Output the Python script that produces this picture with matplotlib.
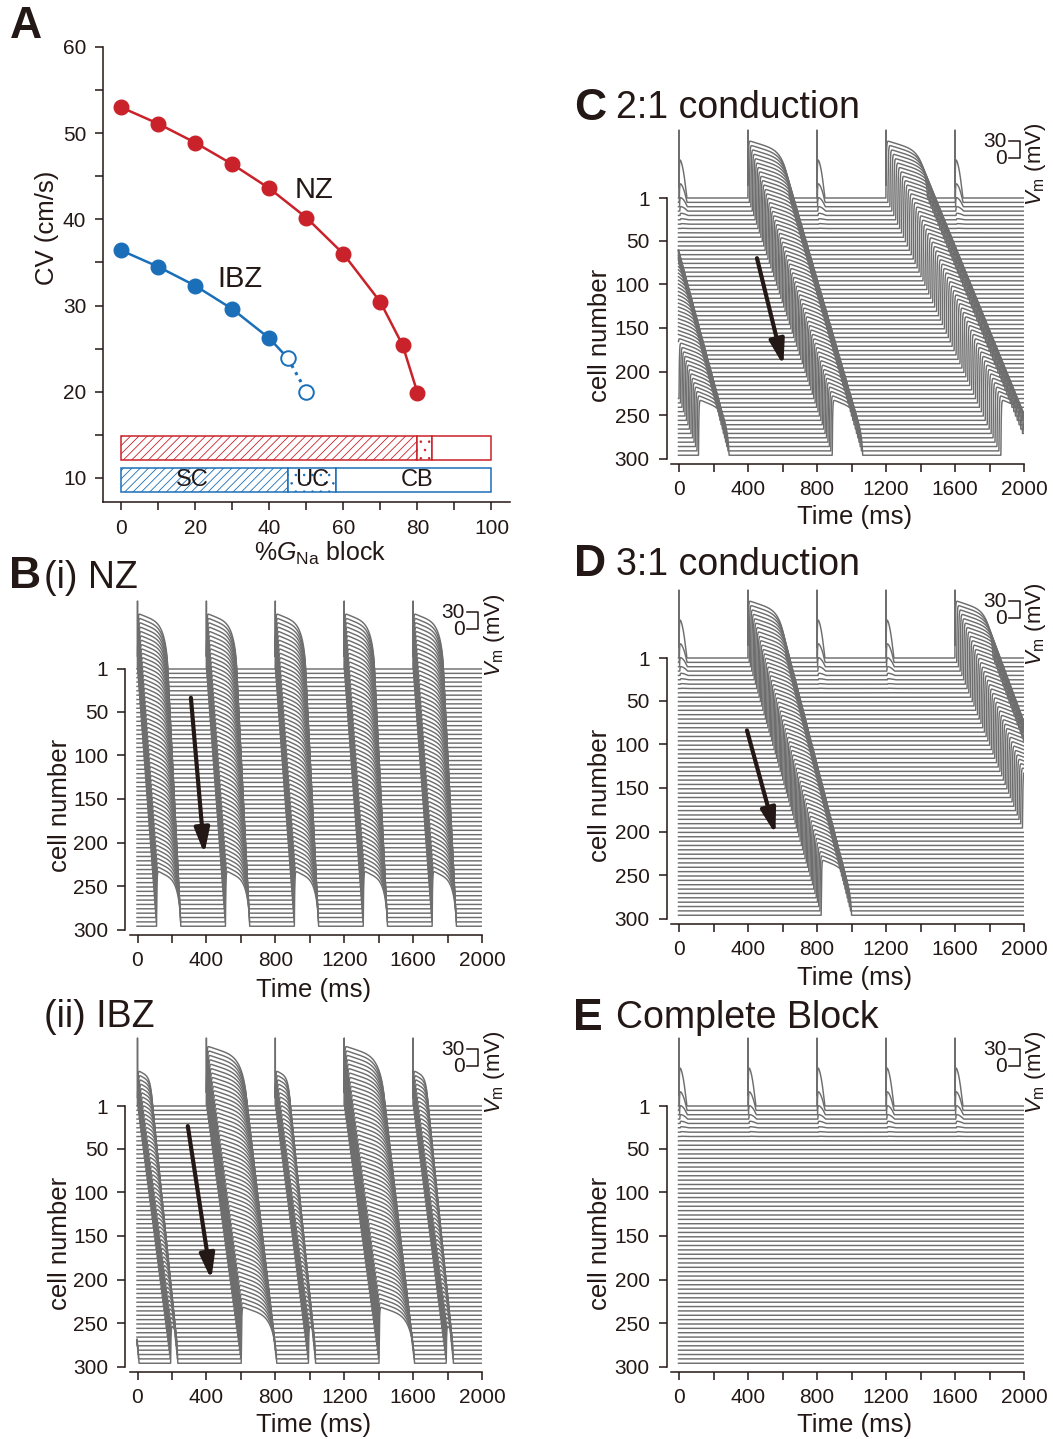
import numpy as np
import matplotlib
matplotlib.use("Agg")
import matplotlib.pyplot as plt
from matplotlib.ticker import MultipleLocator

plt.rcParams["font.family"] = ["Liberation Sans", "DejaVu Sans"]
plt.rcParams["mathtext.fontset"] = "custom"
plt.rcParams["mathtext.rm"] = "Liberation Sans"
plt.rcParams["mathtext.it"] = "Liberation Sans:italic"
plt.rcParams["hatch.linewidth"] = 0.6

W, H = 1053, 1439
INK = "#231815"
RED = "#c9222a"
BLUE = "#1b6fb9"
GREY = "#6e6e6e"

# ---- panel A data ----
block_nz = [0, 10, 20, 30, 40, 50, 60, 70, 76, 80]
cv_nz = [53.0, 51.1, 48.9, 46.4, 43.6, 40.2, 36.0, 30.4, 25.4, 19.9]
block_ibz = [0, 10, 20, 30, 40, 45, 50]
cv_ibz = [36.4, 34.5, 32.3, 29.6, 26.2, 23.9, 20.0]
n_solid_ibz = 5  # last two IBZ points are open circles

nz_bounds = [0, 80, 84, 100]
ibz_bounds = [0, 45, 58, 100]
region_names = ["SC", "UC", "CB"]
region_hatch = ["////", "..", ""]

# ---- trace panels: stimulus times and per-beat conduction ----
stims_5 = [0, 400, 800, 1200, 1600]
stims_6 = [-400, 0, 400, 800, 1200, 1600]

nz_conducted = [1, 1, 1, 1, 1]
nz_delay = [112, 112, 112, 112, 112]
nz_apd_top = [175, 175, 175, 175, 175]
nz_apd_bot = [140, 140, 140, 140, 140]
nz_amp_top = [64, 64, 64, 64, 64]
nz_amp_bot = [64, 64, 64, 64, 64]

ibz_conducted = [1, 1, 1, 1, 1, 1]
ibz_delay = [205, 195, 205, 195, 205, 195]
ibz_apd_top = [260, 85, 234, 85, 234, 85]
ibz_apd_bot = [205, 40, 205, 40, 205, 40]
ibz_amp_top = [69, 41, 69, 41, 69, 41]
ibz_amp_bot = [65, 45, 65, 45, 65, 45]

c_conducted = [1, 0, 1, 0, 1, 0]
c_delay = [520, 0, 495, 0, 675, 0]
c_apd_top = [300, 0, 240, 0, 240, 0]
c_apd_bot = [175, 0, 175, 0, 175, 0]
c_amp_top = [66, 0, 66, 0, 66, 0]
c_amp_bot = [64, 0, 64, 0, 64, 0]

d_conducted = [0, 1, 0, 0, 1]
d_delay = [0, 430, 0, 0, 600]
d_apd_top = [0, 220, 0, 0, 220]
d_apd_bot = [0, 175, 0, 0, 175]
d_amp_top = [0, 66, 0, 0, 66]
d_amp_bot = [0, 64, 0, 0, 64]

e_conducted = [0, 0, 0, 0, 0]

SPIKE = 78        # stimulus artefact height on cell 1
LOCAL_AMP = 45    # local response of a blocked beat at cell 1
LOCAL_LEN = 7.0   # decay length (cells)
LOCAL_DUR = 45.0  # ms

t = np.arange(-3, 2000.5, 0.5)
cells = np.arange(1, 301, 5)


def cell_trace(cell, stims, conducted, delay=None, apd_top=None, apd_bot=None,
               amp_top=None, amp_bot=None):
    f = (cell - 1) / 299.0
    v = np.zeros_like(t)
    for k, s in enumerate(stims):
        if conducted[k]:
            ta = s + delay[k] * f
            apd = apd_top[k] + (apd_bot[k] - apd_top[k]) * f
            amp = amp_top[k] + (amp_bot[k] - amp_top[k]) * f
            dt = t - ta
            m = (dt >= 0) & (dt < apd)
            x = dt[m] / apd
            shape = (1 - np.exp(-dt[m] / 2.0)) * (1 - 0.22 * x) * (1 - x ** 6) ** 0.6
            v[m] = np.maximum(v[m], amp * shape)
        else:
            amp = LOCAL_AMP * np.exp(-(cell - 1) / LOCAL_LEN)
            dt = t - s - 0.3 * (cell - 1)
            m = (dt >= 0) & (dt < LOCAL_DUR)
            x = dt[m] / LOCAL_DUR
            v[m] = np.maximum(v[m], amp * (1 - np.exp(-dt[m] / 1.5)) * (1 - x ** 2))
        if cell == 1:
            v[np.isclose(t, s)] = SPIKE
    return v


fig = plt.figure(figsize=(W / 100, H / 100), dpi=100)


def box(l, t_, r, b):
    return fig.add_axes([l / W, 1 - b / H, (r - l) / W, (b - t_) / H])


def ftext(x, y, s, **kw):
    kw.setdefault("color", INK)
    fig.text(x / W, 1 - y / H, s, **kw)


def style_axis(ax):
    for side in ["top", "right"]:
        ax.spines[side].set_visible(False)
    for side in ["left", "bottom"]:
        ax.spines[side].set_color(INK)
        ax.spines[side].set_linewidth(1.1)
    ax.tick_params(which="both", direction="out", length=6, width=1.1,
                   colors=INK, labelsize=15, pad=6)


# ---------------- panel A ----------------
axA = box(103, 47, 510, 502)
style_axis(axA)
axA.plot(block_nz, cv_nz, "-o", color=RED, lw=1.8, ms=10.5, zorder=3)
axA.plot(block_ibz[:n_solid_ibz + 1], cv_ibz[:n_solid_ibz + 1], "-", color=BLUE, lw=1.8)
axA.plot(block_ibz[n_solid_ibz:], cv_ibz[n_solid_ibz:], ":", color=BLUE, lw=2.2)
axA.plot(block_ibz[:n_solid_ibz], cv_ibz[:n_solid_ibz], "o", color=BLUE, ms=10.5, zorder=3)
axA.plot(block_ibz[n_solid_ibz:], cv_ibz[n_solid_ibz:], "o", mfc="white", mec=BLUE,
         mew=1.4, ms=10.5, zorder=3)
for bounds, y, col in [(nz_bounds, 13.48, RED), (ibz_bounds, 9.79, BLUE)]:
    for i in range(3):
        axA.barh(y, bounds[i + 1] - bounds[i], left=bounds[i], height=2.75,
                 facecolor="white", edgecolor=col, hatch=region_hatch[i], lw=1.1)
for i, name in enumerate(region_names):
    cx = [19.2, 51.5, 80][i]
    axA.text(cx, 9.75, name, ha="center", va="center", fontsize=17, color=INK)
axA.text(52, 43.4, "NZ", ha="center", va="center", fontsize=21, color=INK)
axA.text(32, 33.1, "IBZ", ha="center", va="center", fontsize=21, color=INK)
axA.set_xlim(-4.9, 105)
axA.set_ylim(7.2, 60)
axA.spines["bottom"].set_bounds(-4.9, 105)
axA.xaxis.set_major_locator(MultipleLocator(20))
axA.xaxis.set_minor_locator(MultipleLocator(10))
axA.yaxis.set_major_locator(MultipleLocator(10))
axA.yaxis.set_minor_locator(MultipleLocator(5))
axA.set_yticks([10, 20, 30, 40, 50, 60])
ftext(47, 228, "CV (cm/s)", fontsize=18.5, rotation=90, ha="center", va="center")
ftext(320, 553, r"%$G_{\mathrm{Na}}$ block", fontsize=18, ha="center", va="center")
ftext(26, 26, "A", fontsize=32, fontweight="bold", ha="center", va="center")


# ---------------- trace panels ----------------
def trace_panel(x0, xr, y1, params, arrow):
    # x0: pixel of t=0, xr: pixel of t=2000, y1: pixel of cell 1
    pxms = (xr - x0) / 2000.0
    pxc = 0.872
    left = x0 - 12.5
    ax = box(left, y1 - 82 * pxc, xr, y1 + 304.7 * pxc)
    style_axis(ax)
    for c in cells:
        v = cell_trace(c, **params)
        ax.plot(t, c - v, color=GREY, lw=1.05)
    ax.set_xlim(-12.5 / pxms, 2000)
    ax.set_ylim(305.7, -81)
    ax.spines["left"].set_bounds(1, 300)
    ax.spines["bottom"].set_bounds(-44, 2000)
    ax.set_yticks([1, 50, 100, 150, 200, 250, 300])
    ax.set_xticks([0, 400, 800, 1200, 1600, 2000])
    ax.xaxis.set_minor_locator(MultipleLocator(200))
    ax.tick_params(which="minor", length=6, width=1.1)
    if arrow is not None:
        ax.annotate("", xy=arrow[1], xytext=arrow[0],
                    arrowprops=dict(arrowstyle="-|>,head_length=1.5,head_width=0.45",
                                    lw=3, color=INK, shrinkA=0, shrinkB=0))
    # 30 mV scale bar
    xa, xb = 2000 - 15 / pxms, 2000 - 4 / pxms
    ya, yb = -64, -44.5
    ax.plot([xa, xb, xb, xa], [ya, ya, yb, yb], color=INK, lw=1.1, clip_on=False)
    ax.text(xa - 2 / pxms, ya, "30", ha="right", va="center", fontsize=15, color=INK)
    ax.text(xa - 2 / pxms, yb, "0", ha="right", va="center", fontsize=15, color=INK)
    ax.text(2000 + 12 / pxms, -38, r"$V_{\mathrm{m}}$ (mV)", rotation=90,
            ha="center", va="center", fontsize=16, color=INK, clip_on=False)
    return ax


p_nz = dict(stims=stims_5, conducted=nz_conducted, delay=nz_delay, apd_top=nz_apd_top,
            apd_bot=nz_apd_bot, amp_top=nz_amp_top, amp_bot=nz_amp_bot)
p_ibz = dict(stims=stims_6, conducted=ibz_conducted, delay=ibz_delay, apd_top=ibz_apd_top,
             apd_bot=ibz_apd_bot, amp_top=ibz_amp_top, amp_bot=ibz_amp_bot)
p_c = dict(stims=stims_6, conducted=c_conducted, delay=c_delay, apd_top=c_apd_top,
           apd_bot=c_apd_bot, amp_top=c_amp_top, amp_bot=c_amp_bot)
p_d = dict(stims=stims_5, conducted=d_conducted, delay=d_delay, apd_top=d_apd_top,
           apd_bot=d_apd_bot, amp_top=d_amp_top, amp_bot=d_amp_bot)
p_e = dict(stims=stims_5, conducted=e_conducted)

trace_panel(137.5, 482, 669, p_nz, ((310, 34), (388, 213)))
trace_panel(137.5, 482, 1106, p_ibz, ((292, 24), (428, 200)))
trace_panel(679, 1024, 198, p_c, ((452, 70), (605, 193)))
trace_panel(679, 1024, 658, p_d, ((394, 84), (559, 203)))
trace_panel(679, 1024, 1106, p_e, None)

for (cx, cy) in [(60, 805), (60, 1243), (600, 335), (600, 795), (600, 1243)]:
    ftext(cx, cy, "cell number", fontsize=18.5, rotation=90, ha="center", va="center")
for (cx, cy) in [(314, 990), (314, 1425), (855, 517), (855, 978), (855, 1425)]:
    ftext(cx, cy, "Time (ms)", fontsize=18.5, ha="center", va="center")

ftext(25, 577, "B", fontsize=32, fontweight="bold", ha="center", va="center")
ftext(44, 578, "(i) NZ", fontsize=27, ha="left", va="center")
ftext(44, 1017, "(ii) IBZ", fontsize=27, ha="left", va="center")
ftext(590, 108, "C", fontsize=32, fontweight="bold", ha="center", va="center")
ftext(616, 108, "2:1 conduction", fontsize=27, ha="left", va="center")
ftext(590, 565, "D", fontsize=32, fontweight="bold", ha="center", va="center")
ftext(616, 565, "3:1 conduction", fontsize=27, ha="left", va="center")
ftext(588, 1018, "E", fontsize=32, fontweight="bold", ha="center", va="center")
ftext(616, 1018, "Complete Block", fontsize=27, ha="left", va="center")

fig.savefig("out.png", dpi=100)
